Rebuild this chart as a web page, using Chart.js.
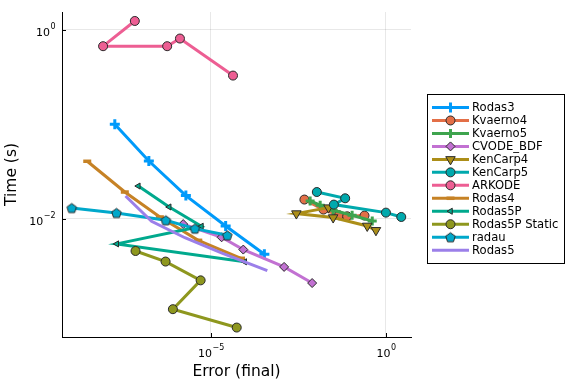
<!doctype html>
<html lang="en">
<head>
	<meta charset="utf-8">
	<title></title>
	<style>
		* { margin: 0; padding: 0; }
		body { background: white; overflow: hidden; }
		.chartBox { width: 576px; height: 384px; }
	</style>
</head>
<body>
	<div class="chartBox"><canvas id="wpChart"></canvas></div>
	<script src="https://cdn.jsdelivr.net/npm/chart.js"></script>
	<script>
		// series names (legend order)
		const names = ['Rodas3', 'Kvaerno4', 'Kvaerno5', 'CVODE_BDF', 'KenCarp4', 'KenCarp5',
			'ARKODE', 'Rodas4', 'Rodas5P', 'Rodas5P Static', 'radau', 'Rodas5'];

		// error (final) / time (s) for every series
		const rodas3Err = [1.79e-8, 1.68e-7, 1.92e-6, 2.63e-5, 3.36e-4];
		const rodas3Time = [0.0995, 0.0407, 0.0175, 0.00836, 0.00419];
		const kvaerno4Err = [4.68e-3, 1.64e-2, 4.60e-2, 7.80e-2, 0.244];
		const kvaerno4Time = [0.0159, 0.01245, 0.01084, 0.01057, 0.01076];
		const kvaerno5Err = [6.82e-3, 1.32e-2, 3.10e-2, 0.108, 0.406];
		const kvaerno5Time = [0.01535, 0.01384, 0.01225, 0.01084, 0.00944];
		const cvodeErr = [1.61e-6, 2.02e-5, 8.39e-5, 1.23e-3, 7.78e-3];
		const cvodeTime = [0.00875, 0.00634, 0.0047, 0.00308, 0.00208];
		const kencarp4Err = [0.0228, 2.76e-3, 0.0310, 0.292, 0.518];
		const kencarp4Time = [0.01306, 0.0113, 0.01026, 0.00836, 0.00752];
		const kencarp5Err = [0.0106, 0.0684, 0.0325, 1.0, 2.74];
		const kencarp5Time = [0.0191, 0.0164, 0.01406, 0.01156, 0.0104];
		const arkodeErr = [6.68e-8, 8.28e-9, 5.61e-7, 1.30e-6, 4.27e-5];
		const arkodeTime = [1.233, 0.667, 0.667, 0.804, 0.326];
		const rodas4Err = [2.92e-9, 3.46e-8, 3.47e-7, 4.34e-6, 7.23e-5];
		const rodas4Time = [0.0404, 0.0191, 0.0104, 0.00589, 0.0038];
		const rodas5pErr = [8.41e-8, 6.41e-7, 5.35e-6, 2.04e-8, 9.23e-5];
		const rodas5pTime = [0.0221, 0.01327, 0.0083, 0.0054, 0.00349];
		const rodas5psErr = [7.0e-8, 5.05e-7, 5.07e-6, 8.17e-7, 5.45e-5];
		const rodas5psTime = [0.00454, 0.00351, 0.00222, 0.0011, 0.000703];
		const radauErr = [1.05e-9, 2.0e-8, 5.15e-7, 3.48e-6, 2.93e-5];
		const radauTime = [0.01294, 0.01146, 0.0096, 0.00783, 0.00665];
		const rodas5Err = [3.62e-8, 2.01e-7, 1.80e-6, 2.07e-5, 4.08e-4];
		const rodas5Time = [0.01734, 0.00935, 0.00627, 0.0043, 0.00282];

		const errs = [rodas3Err, kvaerno4Err, kvaerno5Err, cvodeErr, kencarp4Err, kencarp5Err,
			arkodeErr, rodas4Err, rodas5pErr, rodas5psErr, radauErr, rodas5Err];
		const times = [rodas3Time, kvaerno4Time, kvaerno5Time, cvodeTime, kencarp4Time, kencarp5Time,
			arkodeTime, rodas4Time, rodas5pTime, rodas5psTime, radauTime, rodas5Time];

		const xTicks = [1e-5, 1];
		const yTicks = [1e-2, 1];
		const expText = v => String(Math.round(Math.log10(v))).replace('-', '\u2212');

		const colors = ['#009AFA', '#E36F47', '#3EA44E', '#C271D2', '#AC8E18', '#00A9AD',
			'#ED5E93', '#C68225', '#00A98D', '#8E971E', '#00A8CB', '#9B7FE9'];
		const edge = '#2a2a2a';

		function pentagon(fill, r) {
			const c = document.createElement('canvas');
			const s = Math.ceil(2 * r + 3);
			c.width = c.height = s;
			const g = c.getContext('2d');
			g.beginPath();
			for (let k = 0; k < 5; k++) {
				const a = -Math.PI / 2 + k * 2 * Math.PI / 5;
				g.lineTo(s / 2 + r * Math.cos(a), s / 2 + r * Math.sin(a) + 0.5);
			}
			g.closePath();
			g.fillStyle = fill;
			g.fill();
			g.lineWidth = 1;
			g.strokeStyle = edge;
			g.stroke();
			return c;
		}

		// marker per series
		const markers = [
			{ pointStyle: 'cross', radius: 5, borderWidth: 3, borderColor: colors[0] },
			{ pointStyle: 'circle', radius: 4.5, borderWidth: 1, borderColor: edge },
			{ pointStyle: 'cross', radius: 4.5, borderWidth: 3, borderColor: colors[2] },
			{ pointStyle: 'rectRot', radius: 4.5, borderWidth: 1, borderColor: edge },
			{ pointStyle: 'triangle', radius: 5.5, borderWidth: 1, borderColor: edge, rotation: 180 },
			{ pointStyle: 'circle', radius: 4.5, borderWidth: 1, borderColor: edge },
			{ pointStyle: 'circle', radius: 4.5, borderWidth: 1, borderColor: edge },
			{ pointStyle: 'line', radius: 4, borderWidth: 3.5, borderColor: colors[7] },
			{ pointStyle: 'triangle', radius: 3.5, borderWidth: 1, borderColor: edge, rotation: 270 },
			{ pointStyle: 'circle', radius: 4.5, borderWidth: 1, borderColor: edge },
			{ pointStyle: pentagon(colors[10], 5), radius: 5, borderWidth: 1, borderColor: edge },
			{ pointStyle: 'circle', radius: 0, borderWidth: 0, borderColor: edge }
		];

		const datasets = names.map((name, i) => ({
			label: name,
			data: errs[i].map((e, j) => ({ x: e, y: times[i][j] })),
			borderColor: colors[i],
			backgroundColor: colors[i],
			borderWidth: 3,
			tension: 0,
			pointStyle: markers[i].pointStyle,
			pointRadius: markers[i].radius,
			pointHoverRadius: markers[i].radius,
			pointBorderWidth: markers[i].borderWidth,
			pointBorderColor: markers[i].borderColor,
			pointBackgroundColor: colors[i],
			pointRotation: markers[i].rotation || 0,
			order: names.length - i
		}));

		// small inward tick marks and 10^n labels like Plots.jl
		const powTicks = {
			id: 'powTicks',
			afterDatasetsDraw(chart) {
				const { ctx, chartArea, scales } = chart;
				ctx.save();
				ctx.strokeStyle = '#000';
				ctx.lineWidth = 1;
				ctx.beginPath();
				xTicks.forEach(v => {
					const px = Math.round(scales.x.getPixelForValue(v)) + 0.5;
					ctx.moveTo(px, chartArea.bottom);
					ctx.lineTo(px, chartArea.bottom - 4);
				});
				yTicks.forEach(v => {
					const py = Math.round(scales.y.getPixelForValue(v)) + 0.5;
					ctx.moveTo(chartArea.left, py);
					ctx.lineTo(chartArea.left + 4, py);
				});
				ctx.stroke();

				ctx.fillStyle = '#000';
				ctx.textBaseline = 'alphabetic';
				ctx.textAlign = 'left';
				const base = '11px "DejaVu Sans"', sup = '8px "DejaVu Sans"';
				const measure = v => {
					ctx.font = base;
					const w1 = ctx.measureText('10').width;
					ctx.font = sup;
					const w2 = ctx.measureText(expText(v)).width;
					return [w1, w2];
				};
				const draw = (v, x0, yb) => {
					const [w1] = measure(v);
					ctx.font = base;
					ctx.fillText('10', x0, yb);
					ctx.font = sup;
					ctx.fillText(expText(v), x0 + w1 + 0.5, yb - 6.5);
				};
				xTicks.forEach(v => {
					const px = scales.x.getPixelForValue(v);
					const [w1, w2] = measure(v);
					draw(v, px - (w1 + w2) / 2, chartArea.bottom + 19.5);
				});
				yTicks.forEach(v => {
					const py = scales.y.getPixelForValue(v);
					const [w1, w2] = measure(v);
					draw(v, chartArea.left - 7 - (w1 + w2), py + 6.3);
				});
				ctx.restore();
			}
		};

		// boxed legend on the right
		const boxLegend = {
			id: 'boxLegend',
			afterDraw(chart) {
				const ctx = chart.ctx;
				const left = 427.5, top = 94.5, w = 137, h = 169;
				ctx.save();
				ctx.fillStyle = '#fff';
				ctx.fillRect(left, top, w, h);
				ctx.strokeStyle = '#000';
				ctx.lineWidth = 1;
				ctx.strokeRect(left, top, w, h);
				ctx.font = '11.6px "DejaVu Sans"';
				ctx.textBaseline = 'middle';
				names.forEach((name, i) => {
					const y = 107.5 + i * 12.97;
					ctx.strokeStyle = colors[i];
					ctx.lineWidth = 3;
					ctx.beginPath();
					ctx.moveTo(432, y);
					ctx.lineTo(469, y);
					ctx.stroke();
					const m = markers[i];
					if (m.radius > 0) {
						ctx.fillStyle = colors[i];
						ctx.strokeStyle = m.borderColor;
						ctx.lineWidth = m.borderWidth;
						Chart.helpers.drawPoint(ctx, {
							pointStyle: m.pointStyle, radius: m.radius,
							rotation: m.rotation || 0, borderWidth: m.borderWidth
						}, 450.5, y);
					}
					ctx.fillStyle = '#000';
					ctx.fillText(name, 472, y + 0.5);
				});
				ctx.restore();
			}
		};

		const whiteBg = {
			id: 'whiteBg',
			beforeDraw(chart) {
				const ctx = chart.ctx;
				ctx.save();
				ctx.fillStyle = '#fff';
				ctx.fillRect(0, 0, chart.width, chart.height);
				ctx.restore();
			}
		};

		const titleFont = { family: '"DejaVu Sans"', size: 15.5 };

		const config = {
			type: 'line',
			data: { datasets },
			options: {
				responsive: false,
				animation: false,
				events: [],
				layout: { padding: { top: 12, right: 165, left: 0, bottom: 0 } },
				scales: {
					x: {
						type: 'logarithmic',
						min: Math.pow(10, -9.256),
						max: Math.pow(10, 0.716),
						afterBuildTicks: s => { s.ticks = xTicks.map(v => ({ value: v })); },
						afterFit: s => { s.height = 47; },
						ticks: { display: false, autoSkip: false, maxRotation: 0 },
						grid: { color: 'rgba(0,0,0,0.09)', lineWidth: 1, drawTicks: false },
						border: { color: '#000', width: 1 },
						title: { display: true, text: 'Error (final)', color: '#000', font: titleFont, padding: { top: 2, bottom: 3 } }
					},
					y: {
						type: 'logarithmic',
						min: Math.pow(10, -3.253),
						max: Math.pow(10, 0.186),
						afterBuildTicks: s => { s.ticks = yTicks.map(v => ({ value: v })); },
						afterFit: s => { s.width = 62; },
						ticks: { display: false, autoSkip: false },
						grid: { color: 'rgba(0,0,0,0.09)', lineWidth: 1, drawTicks: false },
						border: { color: '#000', width: 1 },
						title: { display: true, text: 'Time (s)', color: '#000', font: titleFont, padding: { top: 3, bottom: 2 } }
					}
				},
				plugins: {
					legend: { display: false },
					tooltip: { enabled: false }
				}
			},
			plugins: [whiteBg, powTicks, boxLegend]
		};

		const canvas = document.getElementById('wpChart');
		canvas.width = 576;
		canvas.height = 384;
		const wpChart = new Chart(canvas, config);
	</script>
</body>
</html>
